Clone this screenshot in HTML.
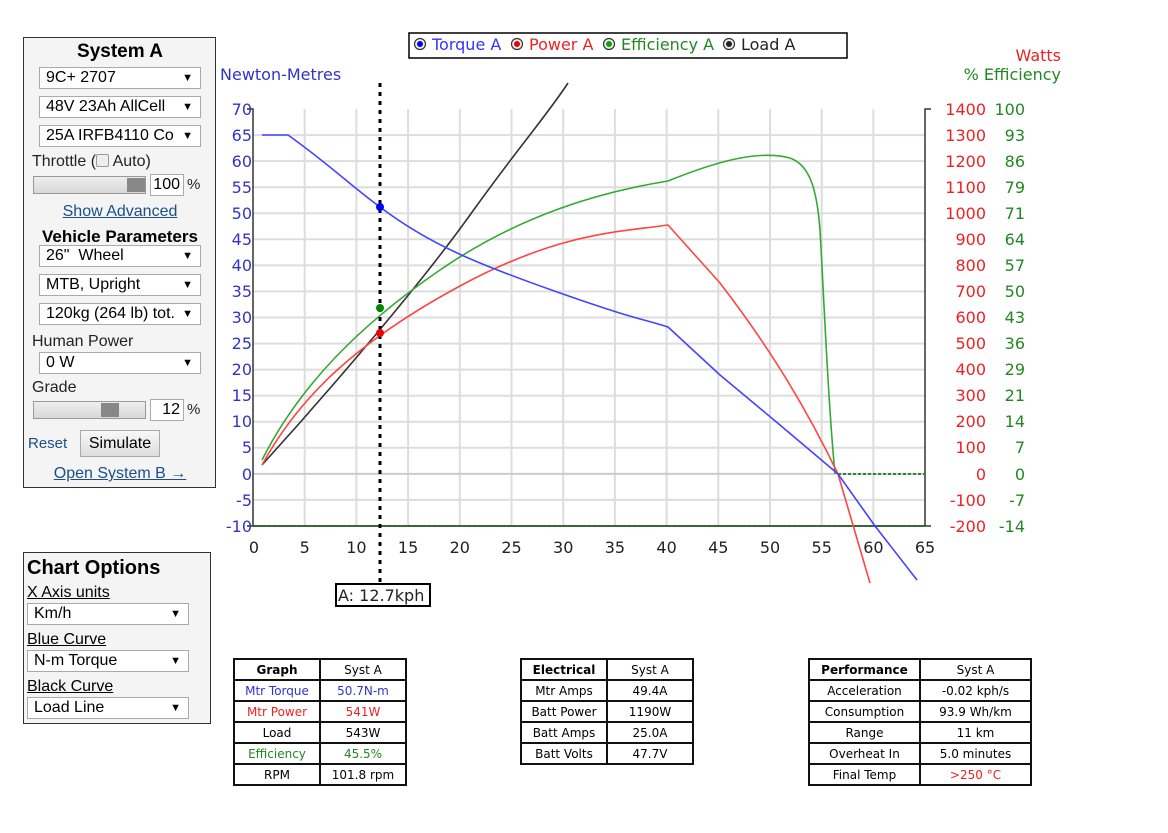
<!DOCTYPE html>
<html><head><meta charset="utf-8"><style>
body{margin:0;width:1168px;height:833px;background:#fff;position:relative;font-family:"Liberation Sans",Arial,sans-serif;overflow:hidden}
.a{position:absolute}
.panel{position:absolute;background:#f4f4f4;border:1px solid #333;box-sizing:border-box}
.sel{position:absolute;background:#fff;border:1px solid #aaa;box-sizing:border-box;height:22px;font-size:16px;line-height:20px;padding-left:6px;color:#000}
.sel:after{content:"▼";position:absolute;right:7px;top:0;font-size:11px}
.lbl{position:absolute;font-size:16px;color:#222}
.slider{position:absolute;height:18px;background:linear-gradient(#eee,#d8d8d8);border:1px solid #999;box-sizing:border-box}
.knob{position:absolute;top:1px;width:18px;height:14px;background:#888}
.inp{position:absolute;background:#fff;border:1px solid #aaa;box-sizing:border-box;height:22px;font-size:16px;line-height:20px;text-align:right;padding-right:3px}
.link{color:#1a4f8a;text-decoration:underline;font-size:16px}
table{position:absolute;border-collapse:collapse;font-family:"DejaVu Sans",Verdana,sans-serif;font-size:12px}
td{border:2px solid #111;height:19px;padding:0;text-align:center}
</style></head><body>

<div class="panel" style="left:23px;top:37px;width:193px;height:451px">
<div class="a" style="left:0;width:192px;top:3px;text-align:center;font-weight:bold;font-size:19px">System A</div>
<div class="sel" style="left:15px;top:29px;width:162px">9C+ 2707</div>
<div class="sel" style="left:15px;top:58px;width:162px">48V 23Ah AllCell</div>
<div class="sel" style="left:15px;top:87px;width:162px">25A IRFB4110 Co</div>
<div class="lbl" style="left:8px;top:115px">Throttle (<span style="display:inline-block;width:11px;height:11px;border:1px solid #999;border-radius:2px;background:#eee;vertical-align:-1px"></span> Auto)</div>
<div class="slider" style="left:9px;top:138px;width:113px"><div class="knob" style="left:93px"></div></div>
<div class="inp" style="left:126px;top:136px;width:34px">100</div>
<div class="lbl" style="left:163px;top:138px;font-size:15px">%</div>
<div class="a link" style="left:0;width:192px;top:165px;text-align:center">Show Advanced</div>
<div class="a" style="left:0;width:192px;top:189px;text-align:center;font-weight:bold;font-size:17px;white-space:nowrap">Vehicle Parameters</div>
<div class="sel" style="left:15px;top:207px;width:162px">26"&nbsp; Wheel</div>
<div class="sel" style="left:15px;top:236px;width:162px">MTB, Upright</div>
<div class="sel" style="left:15px;top:265px;width:162px">120kg (264 lb) tot.</div>
<div class="lbl" style="left:8px;top:295px">Human Power</div>
<div class="sel" style="left:15px;top:314px;width:162px">0 W</div>
<div class="lbl" style="left:8px;top:341px">Grade</div>
<div class="slider" style="left:9px;top:363px;width:113px"><div class="knob" style="left:67px"></div></div>
<div class="inp" style="left:126px;top:361px;width:34px">12</div>
<div class="lbl" style="left:163px;top:363px;font-size:15px">%</div>
<div class="a" style="left:4px;top:397px;color:#1a4f8a;font-size:15px">Reset</div>
<div class="a" style="left:56px;top:392px;width:80px;height:27px;border:1px solid #aaa;background:linear-gradient(#f8f8f8,#ddd);box-sizing:border-box;text-align:center;font-size:16px;line-height:25px">Simulate</div>
<div class="a link" style="left:0;width:192px;top:427px;text-align:center">Open System B →</div>
</div>

<div class="panel" style="left:23px;top:552px;width:188px;height:172px">
<div class="a" style="left:3px;top:4px;font-weight:bold;font-size:20px">Chart Options</div>
<div class="a" style="left:3px;top:31px;font-size:16px;text-decoration:underline">X Axis units</div>
<div class="sel" style="left:3px;top:50px;width:162px">Km/h</div>
<div class="a" style="left:3px;top:78px;font-size:16px;text-decoration:underline">Blue Curve</div>
<div class="sel" style="left:3px;top:97px;width:162px">N-m Torque</div>
<div class="a" style="left:3px;top:125px;font-size:16px;text-decoration:underline">Black Curve</div>
<div class="sel" style="left:3px;top:144px;width:162px">Load Line</div>
</div>

<svg class="a" style="left:0;top:0" width="1168" height="640" font-family="DejaVu Sans,Verdana,sans-serif" font-size="16">
<g stroke="#ddd" stroke-width="2">
<line x1="304.7" y1="109" x2="304.7" y2="526"/><line x1="356.4" y1="109" x2="356.4" y2="526"/><line x1="408.1" y1="109" x2="408.1" y2="526"/><line x1="459.8" y1="109" x2="459.8" y2="526"/><line x1="511.5" y1="109" x2="511.5" y2="526"/><line x1="563.2" y1="109" x2="563.2" y2="526"/><line x1="614.9" y1="109" x2="614.9" y2="526"/><line x1="666.6" y1="109" x2="666.6" y2="526"/><line x1="718.3" y1="109" x2="718.3" y2="526"/><line x1="770" y1="109" x2="770" y2="526"/><line x1="821.7" y1="109" x2="821.7" y2="526"/><line x1="873.4" y1="109" x2="873.4" y2="526"/>
<line x1="253" y1="135.1" x2="925" y2="135.1"/><line x1="253" y1="161.1" x2="925" y2="161.1"/><line x1="253" y1="187.2" x2="925" y2="187.2"/><line x1="253" y1="213.3" x2="925" y2="213.3"/><line x1="253" y1="239.3" x2="925" y2="239.3"/><line x1="253" y1="265.4" x2="925" y2="265.4"/><line x1="253" y1="291.4" x2="925" y2="291.4"/><line x1="253" y1="317.5" x2="925" y2="317.5"/><line x1="253" y1="343.6" x2="925" y2="343.6"/><line x1="253" y1="369.6" x2="925" y2="369.6"/><line x1="253" y1="395.7" x2="925" y2="395.7"/><line x1="253" y1="421.7" x2="925" y2="421.7"/><line x1="253" y1="447.8" x2="925" y2="447.8"/><line x1="253" y1="473.9" x2="925" y2="473.9" stroke="#ccc"/><line x1="253" y1="499.9" x2="925" y2="499.9"/>
</g>
<g stroke="#333" stroke-width="1.5" fill="none">
<path d="M247 109H253V526H247"/>
<path d="M931 109H925V526H931"/>
<line x1="253" y1="526" x2="925" y2="526" stroke="#222"/>
</g>
<line x1="253" y1="526" x2="925" y2="526" stroke="#2a6a2a" stroke-width="2" stroke-dasharray="3,2"/>
<line x1="838" y1="474" x2="925" y2="474" stroke="#2a8a2a" stroke-width="2" stroke-dasharray="3,2"/>
<g fill="none" stroke-width="1.6" stroke-linejoin="round">
<path stroke="#333" d="M262,465 C330,390 420,285 470,215 S545,118 568,83"/>
<path stroke="#3a3" d="M262,460 C300,385 360,325 440,270 S600,192 668,181 C720,160 760,150 790,158 C810,165 817,190 820,230 C824,300 828,400 835,474"/>
<path stroke="#f44" d="M262,465 C300,395 360,340 460,286 S620,232 668,225 L720,283 C760,335 800,395 838,474 L870,583"/>
<path stroke="#44f" d="M262,135 L288,135 C330,165 350,185 380,207 C430,245 480,265 560,293 S640,318 668,327 L720,375 L780,425 L838,474 L875,526 L917,580"/>
</g>
<line x1="380" y1="83" x2="380" y2="585" stroke="#000" stroke-width="3" stroke-dasharray="4,5"/>
<circle cx="380" cy="207" r="4" fill="#00f"/><circle cx="380" cy="308" r="4" fill="#080"/><circle cx="380" cy="333" r="4" fill="#e00"/>
<rect x="336" y="584" width="94" height="22" fill="#fff" stroke="#000" stroke-width="2"/>
<text x="338" y="601" fill="#222">A: 12.7kph</text>
<rect x="409" y="33" width="438" height="25" fill="#fff" stroke="#000" stroke-width="1.5"/>
<g stroke="#333" stroke-width="1.2"><circle cx="420" cy="44" r="5.5" fill="#eee"/><circle cx="517" cy="44" r="5.5" fill="#eee"/><circle cx="609" cy="44" r="5.5" fill="#eee"/><circle cx="729" cy="44" r="5.5" fill="#eee"/></g>
<circle cx="420" cy="44" r="3" fill="#00f"/><circle cx="517" cy="44" r="3" fill="#e00"/><circle cx="609" cy="44" r="3" fill="#0a0"/><circle cx="729" cy="44" r="3" fill="#222"/>
<text y="50"><tspan x="432" fill="#33f">Torque A</tspan><tspan x="529" fill="#e22">Power A</tspan><tspan x="621" fill="#282">Efficiency A</tspan><tspan x="741" fill="#222">Load A</tspan></text>
<text x="220" y="80" fill="#33c">Newton-Metres</text>
<text x="1061" y="61" fill="#e22" text-anchor="end">Watts</text>
<text x="1061" y="80" fill="#282" text-anchor="end">% Efficiency</text>
<g fill="#33c" text-anchor="end">
<text x="252" y="115">70</text><text x="252" y="141">65</text><text x="252" y="167">60</text><text x="252" y="193">55</text><text x="252" y="219">50</text><text x="252" y="245">45</text><text x="252" y="271">40</text><text x="252" y="297">35</text><text x="252" y="323">30</text><text x="252" y="349">25</text><text x="252" y="375">20</text><text x="252" y="401">15</text><text x="252" y="427">10</text><text x="252" y="453">5</text><text x="252" y="480">0</text><text x="252" y="506">-5</text><text x="252" y="532">-10</text>
</g>
<g fill="#e22" text-anchor="end">
<text x="986" y="115">1400</text><text x="986" y="141">1300</text><text x="986" y="167">1200</text><text x="986" y="193">1100</text><text x="986" y="219">1000</text><text x="986" y="245">900</text><text x="986" y="271">800</text><text x="986" y="297">700</text><text x="986" y="323">600</text><text x="986" y="349">500</text><text x="986" y="375">400</text><text x="986" y="401">300</text><text x="986" y="427">200</text><text x="986" y="453">100</text><text x="986" y="480">0</text><text x="986" y="506">-100</text><text x="986" y="532">-200</text>
</g>
<g fill="#282" text-anchor="end">
<text x="1025" y="115">100</text><text x="1025" y="141">93</text><text x="1025" y="167">86</text><text x="1025" y="193">79</text><text x="1025" y="219">71</text><text x="1025" y="245">64</text><text x="1025" y="271">57</text><text x="1025" y="297">50</text><text x="1025" y="323">43</text><text x="1025" y="349">36</text><text x="1025" y="375">29</text><text x="1025" y="401">21</text><text x="1025" y="427">14</text><text x="1025" y="453">7</text><text x="1025" y="480">0</text><text x="1025" y="506">-7</text><text x="1025" y="532">-14</text>
</g>
<g fill="#222" text-anchor="middle">
<text x="254" y="553">0</text><text x="304.7" y="553">5</text><text x="356.4" y="553">10</text><text x="408.1" y="553">15</text><text x="459.8" y="553">20</text><text x="511.5" y="553">25</text><text x="563.2" y="553">30</text><text x="614.9" y="553">35</text><text x="666.6" y="553">40</text><text x="718.3" y="553">45</text><text x="770" y="553">50</text><text x="821.7" y="553">55</text><text x="873.4" y="553">60</text><text x="925" y="553">65</text>
</g>
</svg>

<table style="left:233px;top:658px">
<tr><td style="width:84px;font-weight:bold">Graph</td><td style="width:84px">Syst A</td></tr>
<tr style="color:#33c"><td>Mtr Torque</td><td>50.7N-m</td></tr>
<tr style="color:#e22"><td>Mtr Power</td><td>541W</td></tr>
<tr><td>Load</td><td>543W</td></tr>
<tr style="color:#282"><td>Efficiency</td><td>45.5%</td></tr>
<tr><td>RPM</td><td>101.8 rpm</td></tr>
</table>
<table style="left:520px;top:658px">
<tr><td style="width:84px;font-weight:bold">Electrical</td><td style="width:84px">Syst A</td></tr>
<tr><td>Mtr Amps</td><td>49.4A</td></tr>
<tr><td>Batt Power</td><td>1190W</td></tr>
<tr><td>Batt Amps</td><td>25.0A</td></tr>
<tr><td>Batt Volts</td><td>47.7V</td></tr>
</table>
<table style="left:808px;top:658px">
<tr><td style="width:109px;font-weight:bold">Performance</td><td style="width:109px">Syst A</td></tr>
<tr><td>Acceleration</td><td>-0.02 kph/s</td></tr>
<tr><td>Consumption</td><td>93.9 Wh/km</td></tr>
<tr><td>Range</td><td>11 km</td></tr>
<tr><td>Overheat In</td><td>5.0 minutes</td></tr>
<tr><td>Final Temp</td><td style="color:#e22">&gt;250 °C</td></tr>
</table>
</body></html>
